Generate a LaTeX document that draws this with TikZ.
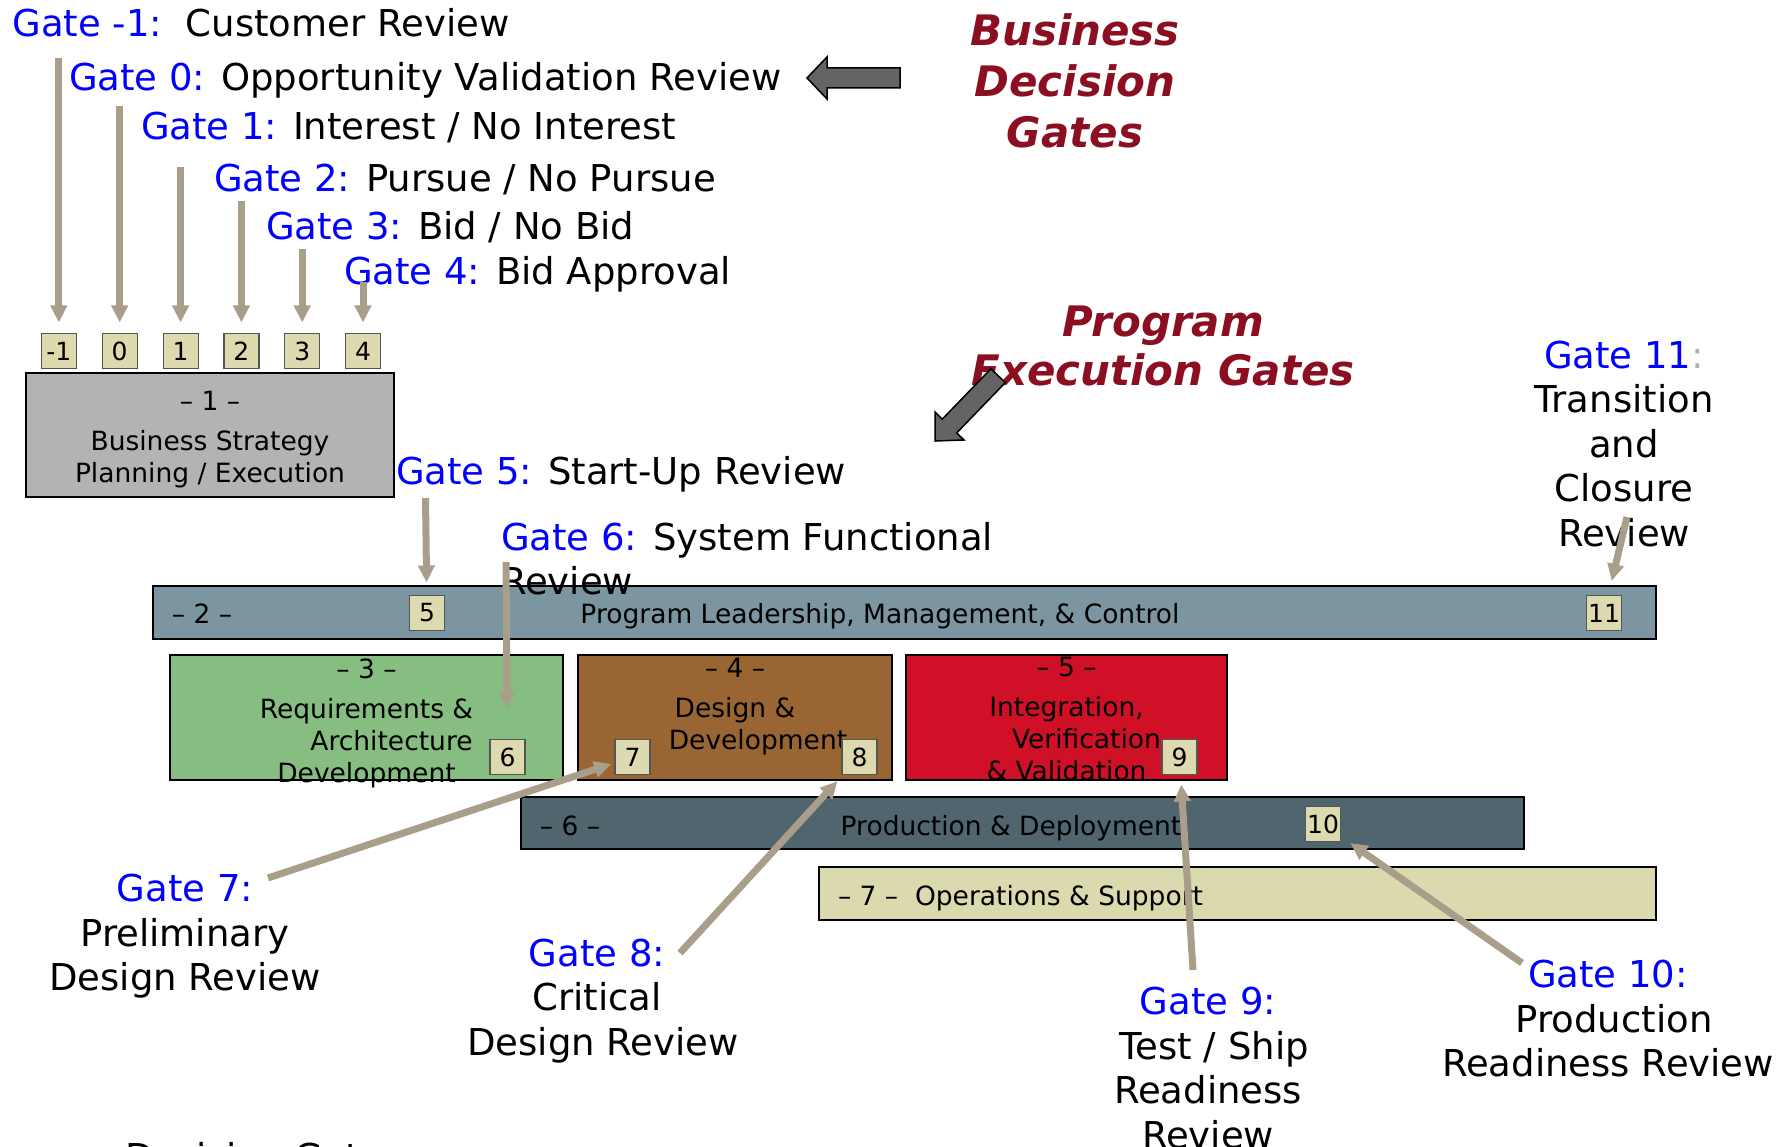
\documentclass[tikz,border=0pt]{standalone}
\usepackage{fontspec}
\setmainfont{DejaVu Sans}
\usetikzlibrary{arrows.meta}
\definecolor{gateblue}{HTML}{0000FF}
\definecolor{colongray}{HTML}{A3B3C3}
\definecolor{titlered}{HTML}{8B0F20}
\definecolor{arrowtan}{HTML}{A89E89}
\definecolor{arrowgray}{HTML}{646464}
\definecolor{numfill}{HTML}{DCDAAE}
\definecolor{numedge}{HTML}{555555}
\definecolor{bizgray}{HTML}{B3B3B3}
\definecolor{leadblue}{HTML}{7B96A0}
\definecolor{reqgreen}{HTML}{86BE82}
\definecolor{devbrown}{HTML}{996633}
\definecolor{ivvred}{HTML}{CF1027}
\definecolor{prodslate}{HTML}{50656E}
\definecolor{opsbeige}{HTML}{DBD9AE}
\newcommand{\gatename}[1]{\textcolor{gateblue}{#1}}

\begin{document}
\begin{tikzpicture}[x=1pt, y=-1pt,
    every node/.style = {inner sep=0pt, outer sep=0pt},
    gate/.style = {font=\fontsize{37}{44.5}\selectfont},
    title/.style = {font=\fontsize{42}{51}\selectfont\bfseries\itshape,
      text=titlered, align=center},
    stage/.style = {draw=black, line width=2.5pt},
    stagetext/.style = {font=\fontsize{26.5}{32}\selectfont, align=center},
    num/.style = {draw=numedge, line width=1.2pt, fill=numfill,
      minimum width=35pt, minimum height=35pt, font=\fontsize{25}{30}\selectfont},
    gatearrow/.style = {draw=arrowtan, line width=7pt,
      -{Triangle[length=17pt,width=16pt]}},
    bigarrow/.style = {draw=black, line width=1.5pt, fill=arrowgray}]
  \useasboundingbox (0,0) rectangle (1781,1147);

  \node[stage, fill=bizgray, minimum width=368, minimum height=124] (stage1) at (210,435) {};
  \node[stage, fill=leadblue, minimum width=1503, minimum height=53] (stage2) at (904.5,612.5) {};
  \node[stage, fill=reqgreen, minimum width=393, minimum height=125] (stage3) at (366.5,717.5) {};
  \node[stage, fill=devbrown, minimum width=314, minimum height=125] (stage4) at (735,717.5) {};
  \node[stage, fill=ivvred, minimum width=321, minimum height=125] (stage5) at (1066.5,717.5) {};
  \node[stage, fill=prodslate, minimum width=1003, minimum height=52] (stage6) at (1022.5,823) {};
  \node[stage, fill=opsbeige, minimum width=837, minimum height=53] (stage7) at (1237.5,893.5) {};

  \node[stagetext] (stage1name) at (210,440)
    {– 1 –\\[8pt]Business Strategy\\Planning / Execution};
  \node[stagetext] (stage3name) at (366.5,723)
    {– 3 –\\[8pt]Requirements \&\\\hspace*{50pt}Architecture\\Development};
  \node[stagetext] (stage4name) at (735,719.5)
    {– 4 –\\[8pt]Design \&\\\hspace*{46pt}Development\\\mbox{}};
  \node[stagetext] (stage5name) at (1066.5,719.5)
    {– 5 –\\[8pt]Integration,\\\hspace*{40pt}Verification\\\& Validation};
  \node[stagetext, anchor=base] (stage2num) at (202,623.7) {– 2 –};
  \node[stagetext, anchor=base] (stage2name) at (880,623.7) {Program Leadership, Management, \& Control};
  \node[stagetext, anchor=base] (stage6num) at (570,835) {– 6 –};
  \node[stagetext, anchor=base] (stage6name) at (1011,835) {Production \& Deployment};
  \node[stagetext, anchor=base west] (stage7name) at (838,905.5) {– 7 –~~Operations \& Support};

  \node[num] (bm1) at (58.8,351) {-1};
  \node[num] (b0) at (119.7,351) {0};
  \node[num] (b1) at (180.6,351) {1};
  \node[num] (b2) at (241.4,351) {2};
  \node[num] (b3) at (302.2,351) {3};
  \node[num] (b4) at (363,351) {4};
  \node[num] (b5) at (427,613) {5};
  \node[num] (b6) at (507.5,757) {6};
  \node[num] (b7) at (632.5,757) {7};
  \node[num] (b8) at (859.5,757) {8};
  \node[num] (b9) at (1179.5,757) {9};
  \node[num] (b10) at (1323,824) {10};
  \node[num] (b11) at (1604,613) {11};

  \node[gate, anchor=base west] (gm1) at (12.6,36.7) {\gatename{Gate -1:}~~Customer Review};
  \node[gate, anchor=base west] (g0) at (69,90.7) {\gatename{Gate 0:} Opportunity Validation Review};
  \node[gate, anchor=base west] (g1) at (141,140) {\gatename{Gate 1:} Interest / No Interest};
  \node[gate, anchor=base west] (g2) at (214,191.7) {\gatename{Gate 2:} Pursue / No Pursue};
  \node[gate, anchor=base west] (g3) at (266,239.3) {\gatename{Gate 3:} Bid / No Bid};
  \node[gate, anchor=base west] (g4) at (344,285) {\gatename{Gate 4:} Bid Approval};
  \node[gate, anchor=base west] (g5) at (396,484) {\gatename{Gate 5:} Start-Up Review};
  \node[gate, anchor=west, align=left] (g6) at (501,558.5) {\gatename{Gate 6:} System Functional\\Review};
  \node[gate, align=center] (g7) at (185,936.5) {\gatename{Gate 7:}\\Preliminary\\Design Review};
  \node[gate, align=center] (g8) at (597,1001) {\gatename{Gate 8:}\\Critical\\\hspace*{12pt}Design Review};
  \node[gate, align=center] (g9) at (1208,1068)
    {\gatename{Gate 9:}\\\hspace*{12pt}Test / Ship\\Readiness\hspace*{10pt}\\Review};
  \node[gate, align=center] (g10) at (1608,1019)
    {\gatename{Gate 10:}\\\hspace*{12pt}Production\\Readiness Review};
  \node[gate, align=center] (g11) at (1624,444)
    {\gatename{Gate 11}\textcolor{colongray}{:}\\Transition\\and\\Closure\\Review};
  \node[gate, anchor=base west] (legend) at (125,1170) {Decision Gates};

  \node[title] (bizgates) at (1075,81) {Business\\Decision\\Gates};
  \node[title, font=\fontsize{42}{49}\selectfont\bfseries\itshape] (proggates) at (1163,346)
    {Program\\Execution Gates};

  \coordinate (sm1) at (58.8,58);
  \coordinate (s0) at (119.7,106);
  \coordinate (s1) at (180.6,167);
  \coordinate (s2) at (241.4,201);
  \coordinate (s3) at (302.2,249);
  \coordinate (s4) at (363,282);
  \coordinate (s5) at (425.5,498);
  \coordinate (s6) at (506,562);
  \coordinate (s7) at (268,878);
  \coordinate (s8) at (680,953);
  \coordinate (s9) at (1193,970);
  \coordinate (s10) at (1522,963);
  \coordinate (s11) at (1627,517);

  \draw[gatearrow, shorten >=11pt] (sm1) -- (bm1);
  \draw[gatearrow, shorten >=11pt] (s0) -- (b0);
  \draw[gatearrow, shorten >=11pt] (s1) -- (b1);
  \draw[gatearrow, shorten >=11pt] (s2) -- (b2);
  \draw[gatearrow, shorten >=11pt] (s3) -- (b3);
  \draw[gatearrow, shorten >=11pt] (s4) -- (b4);
  \draw[gatearrow, shorten >=13pt] (s5) -- (b5);
  \draw[gatearrow, shorten >=31pt] (s6) -- (b6);
  \draw[gatearrow, shorten >=4pt] (s7) -- (b7);
  \draw[gatearrow, shorten >=9pt] (s8) -- (b8);
  \draw[gatearrow, shorten >=10pt] (s9) -- (b9);
  \draw[gatearrow, shorten >=12pt] (s10) -- (b10);
  \draw[gatearrow, shorten >=15pt] (s11) -- (b11);

  \draw[bigarrow] (807,78) -- (827,57) -- (827,68) -- (900,68) -- (900,88)
    -- (827,88) -- (827,99) -- cycle;
  \draw[bigarrow] (935,441) -- (964,440) -- (956.7,432.9) -- (1005.3,382.6)
    -- (990.9,368.8) -- (942.3,419.1) -- (935,412) -- cycle;
\end{tikzpicture}
\end{document}
